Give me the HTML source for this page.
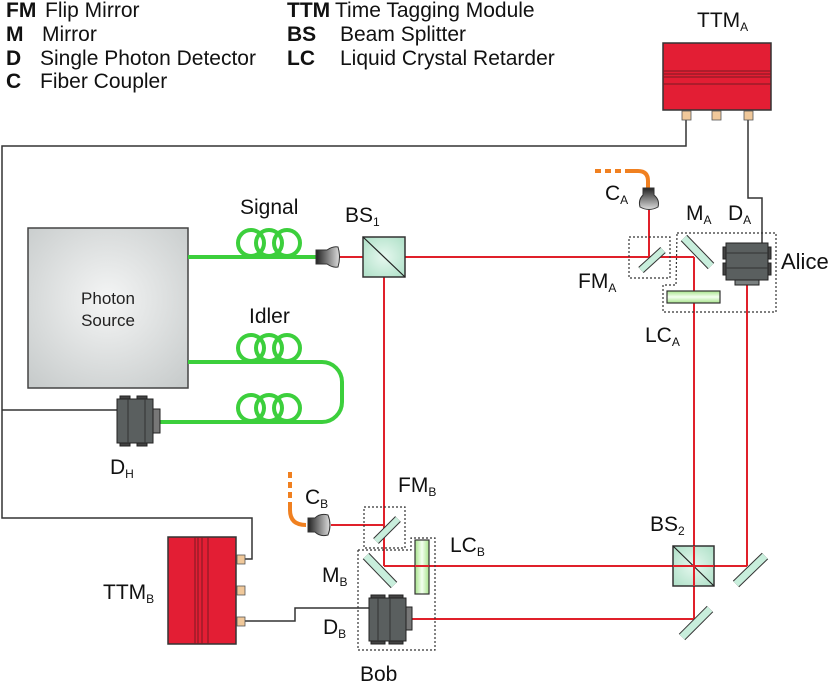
<!DOCTYPE html>
<html><head><meta charset="utf-8"><style>
html,body{margin:0;padding:0;background:#fff;}
svg{display:block;font-family:"Liberation Sans",sans-serif;}
</style></head><body>
<svg width="831" height="682" viewBox="0 0 831 682" xmlns="http://www.w3.org/2000/svg">
<defs>
<radialGradient id="ps" cx="50%" cy="45%" r="70%"><stop offset="0" stop-color="#f4f5f5"/><stop offset="1" stop-color="#c8cccc"/></radialGradient>
<linearGradient id="lc" x1="0" y1="0" x2="1" y2="0"><stop offset="0" stop-color="#a6e38a"/><stop offset="0.5" stop-color="#f4fff0"/><stop offset="1" stop-color="#a6e38a"/></linearGradient>
<linearGradient id="lcv" x1="0" y1="0" x2="0" y2="1"><stop offset="0" stop-color="#a6e38a"/><stop offset="0.5" stop-color="#f4fff0"/><stop offset="1" stop-color="#a6e38a"/></linearGradient>
<radialGradient id="bs" cx="50%" cy="50%" r="60%"><stop offset="0" stop-color="#e6f8ef"/><stop offset="1" stop-color="#b5e3cc"/></radialGradient>
<linearGradient id="cp" x1="0" y1="0" x2="1" y2="0"><stop offset="0" stop-color="#222"/><stop offset="1" stop-color="#ddd"/></linearGradient>
<linearGradient id="cpv" x1="0" y1="0" x2="0" y2="1"><stop offset="0" stop-color="#222"/><stop offset="1" stop-color="#ddd"/></linearGradient>
</defs>

<!-- legend -->
<g font-size="21" fill="#111">
<text x="6" y="17"><tspan font-weight="bold">FM</tspan><tspan x="45">Flip Mirror</tspan></text>
<text x="6" y="41"><tspan font-weight="bold">M</tspan><tspan x="42">Mirror</tspan></text>
<text x="6" y="65"><tspan font-weight="bold">D</tspan><tspan x="40">Single Photon Detector</tspan></text>
<text x="6" y="88"><tspan font-weight="bold">C</tspan><tspan x="40">Fiber Coupler</tspan></text>
<text x="287" y="17"><tspan font-weight="bold">TTM</tspan><tspan x="335">Time Tagging Module</tspan></text>
<text x="287" y="41"><tspan font-weight="bold">BS</tspan><tspan x="340">Beam Splitter</tspan></text>
<text x="287" y="65"><tspan font-weight="bold">LC</tspan><tspan x="340">Liquid Crystal Retarder</tspan></text>
</g>

<!-- black wires -->
<g fill="none" stroke="#333" stroke-width="1.5">
<polyline points="686,119 686,146 2,146 2,518 252,518 252,559 245,559"/>
<line x1="2" y1="410" x2="117" y2="410"/>
<polyline points="748,119 748,198 762,198 762,243"/>
<polyline points="245,621 295,621 295,608 369,608"/>
</g>

<!-- red beams -->
<g fill="none" stroke="#e0202a" stroke-width="2">
<line x1="338" y1="257" x2="694" y2="257"/>
<line x1="649" y1="210" x2="649" y2="257"/>
<line x1="694" y1="257" x2="694" y2="619"/>
<line x1="747" y1="285" x2="747" y2="566"/>
<line x1="384" y1="257" x2="384" y2="566"/>
<line x1="331" y1="525" x2="384" y2="525"/>
<line x1="384" y1="566" x2="747" y2="566"/>
<line x1="412" y1="619" x2="694" y2="619"/>
</g>

<!-- TTM A -->
<text x="697" y="27" font-size="21" fill="#111">TTM<tspan font-size="12" dy="4">A</tspan></text>
<rect x="663" y="43" width="108" height="67" fill="#e31e34" stroke="#333" stroke-width="1.5"/>
<g stroke="#7a1a22" stroke-width="1"><line x1="663" y1="71" x2="771" y2="71"/><line x1="663" y1="74" x2="771" y2="74"/><line x1="663" y1="77" x2="771" y2="77"/><line x1="663" y1="84" x2="771" y2="84"/></g>
<g fill="#f0c89a" stroke="#555" stroke-width="0.8">
<rect x="682" y="111" width="9" height="9"/><rect x="712" y="111" width="9" height="9"/><rect x="744" y="111" width="9" height="9"/>
</g>

<!-- Photon source -->
<rect x="28" y="228" width="160" height="160" fill="url(#ps)" stroke="#444" stroke-width="1.5"/>
<text x="108" y="304" font-size="17" text-anchor="middle" fill="#222">Photon</text>
<text x="108" y="326" font-size="17" text-anchor="middle" fill="#222">Source</text>

<!-- fibers -->
<g fill="none" stroke="#3ccf3c" stroke-width="4">
<line x1="188" y1="257" x2="316" y2="257"/>
<circle cx="251" cy="243" r="13"/><circle cx="269" cy="243" r="13"/><circle cx="287" cy="243" r="13"/>
<path d="M188 362 H322 A20 20 0 0 1 342 382 V402 A20 20 0 0 1 322 422 H160"/>
<circle cx="251" cy="348" r="13"/><circle cx="269" cy="348" r="13"/><circle cx="287" cy="348" r="13"/>
<circle cx="251" cy="408" r="13"/><circle cx="269" cy="408" r="13"/><circle cx="287" cy="408" r="13"/>
</g>
<text x="240" y="214" font-size="21" fill="#111">Signal</text>
<text x="249" y="323" font-size="21" fill="#111">Idler</text>

<!-- signal coupler -->
<path d="M316 250 H327 Q333 246 338 247 Q341 257 338 267 Q333 268 327 264 H316 Z" fill="url(#cp)" stroke="#333" stroke-width="1"/>

<!-- BS1 -->
<text x="345" y="222" font-size="21" fill="#111">BS<tspan font-size="12" dy="4">1</tspan></text>
<rect x="363" y="237" width="42" height="40" fill="url(#bs)" stroke="#333" stroke-width="1.5"/>
<line x1="363" y1="237" x2="405" y2="277" stroke="#222" stroke-width="1.2"/>

<!-- D_H -->
<g stroke="#222" stroke-width="1">
<rect x="120" y="396" width="10" height="4" fill="#444"/><rect x="137" y="396" width="10" height="4" fill="#444"/>
<rect x="120" y="442" width="10" height="4" fill="#444"/><rect x="137" y="442" width="10" height="4" fill="#444"/>
<rect x="117" y="399" width="36" height="44" fill="#5a5f5f"/>
<rect x="153" y="409" width="7" height="24" fill="#777"/>
<line x1="128" y1="399" x2="128" y2="443" stroke="#333"/><line x1="145" y1="399" x2="145" y2="443" stroke="#333"/>
</g>
<text x="110" y="474" font-size="21" fill="#111">D<tspan font-size="12" dy="4">H</tspan></text>

<!-- C_A -->
<line x1="595" y1="171" x2="626" y2="171" stroke="#f08020" stroke-width="4" stroke-dasharray="6,4"/>
<path d="M626 171 H638 Q648 171 648 181 V190" fill="none" stroke="#f08020" stroke-width="4"/>
<path d="M643 188 H654 V195 Q660 200 658 207 Q649 212 640 207 Q638 200 643 195 Z" fill="url(#cpv)" stroke="#333" stroke-width="1"/>
<text x="605" y="200" font-size="21" fill="#111">C<tspan font-size="12" dy="4">A</tspan></text>

<!-- FM_A -->
<rect x="629" y="237" width="41" height="41" fill="none" stroke="#333" stroke-width="1.2" stroke-dasharray="2,2"/>
<line x1="641" y1="270" x2="663" y2="250" stroke="#333" stroke-width="8"/>
<line x1="641" y1="270" x2="663" y2="250" stroke="#c8eedc" stroke-width="6"/>
<text x="578" y="288" font-size="21" fill="#111">FM<tspan font-size="12" dy="4">A</tspan></text>

<!-- Alice box -->
<polyline points="677,233 776,233 776,312 663,312 663,285 676,285 677,233" fill="none" stroke="#333" stroke-width="1.2" stroke-dasharray="2,2"/>
<line x1="684" y1="238" x2="711" y2="266" stroke="#333" stroke-width="9"/>
<line x1="684" y1="238" x2="711" y2="266" stroke="#c8eedc" stroke-width="7"/>
<rect x="667" y="291" width="53" height="12" fill="url(#lcv)" stroke="#333" stroke-width="1.2"/>
<g stroke="#222" stroke-width="1">
<rect x="723" y="247" width="4" height="12" fill="#444"/><rect x="723" y="263" width="4" height="12" fill="#444"/>
<rect x="767" y="247" width="4" height="12" fill="#444"/><rect x="767" y="263" width="4" height="12" fill="#444"/>
<rect x="735" y="279" width="24" height="6" fill="#7a8080"/>
<rect x="726" y="243" width="42" height="37" fill="#5a5f5f"/>
<line x1="726" y1="253" x2="768" y2="253" stroke="#333"/><line x1="726" y1="268" x2="768" y2="268" stroke="#333"/>
</g>
<text x="686" y="220" font-size="21" fill="#111">M<tspan font-size="12" dy="4">A</tspan></text>
<text x="728" y="220" font-size="21" fill="#111">D<tspan font-size="12" dy="4">A</tspan></text>
<text x="781" y="269" font-size="22" fill="#111">Alice</text>
<text x="645" y="342" font-size="21" fill="#111">LC<tspan font-size="12" dy="4">A</tspan></text>

<!-- BS2 -->
<text x="650" y="531" font-size="21" fill="#111">BS<tspan font-size="12" dy="4">2</tspan></text>
<rect x="673" y="546" width="41" height="40" fill="url(#bs)" stroke="#333" stroke-width="1.5"/>
<line x1="673" y1="546" x2="714" y2="586" stroke="#222" stroke-width="1.2"/>
<line x1="694" y1="546" x2="694" y2="586" stroke="#e0202a" stroke-width="2"/>
<line x1="673" y1="566" x2="714" y2="566" stroke="#e0202a" stroke-width="2"/>
<g>
<line x1="736" y1="584" x2="765" y2="556" stroke="#333" stroke-width="9"/>
<line x1="736" y1="584" x2="765" y2="556" stroke="#c8eedc" stroke-width="7"/>
<line x1="682" y1="637" x2="710" y2="609" stroke="#333" stroke-width="9"/>
<line x1="682" y1="637" x2="710" y2="609" stroke="#c8eedc" stroke-width="7"/>
</g>

<!-- C_B -->
<line x1="290" y1="472" x2="290" y2="506" stroke="#f08020" stroke-width="4" stroke-dasharray="6,4"/>
<path d="M290 506 V510 Q290 525 306 525" fill="none" stroke="#f08020" stroke-width="4"/>
<path d="M308 518 H315 Q320 513 328 515 Q332 525 328 535 Q320 537 315 532 H308 Z" fill="url(#cp)" stroke="#333" stroke-width="1"/>
<text x="305" y="504" font-size="21" fill="#111">C<tspan font-size="12" dy="4">B</tspan></text>

<!-- FM_B -->
<rect x="364" y="507" width="41" height="41" fill="none" stroke="#333" stroke-width="1.2" stroke-dasharray="2,2"/>
<line x1="376" y1="541" x2="398" y2="519" stroke="#333" stroke-width="8"/>
<line x1="376" y1="541" x2="398" y2="519" stroke="#c8eedc" stroke-width="6"/>
<text x="398" y="492" font-size="21" fill="#111">FM<tspan font-size="12" dy="4">B</tspan></text>

<!-- Bob -->
<polyline points="358,550 411,550 411,538 435,538 435,650 358,650 358,550" fill="none" stroke="#333" stroke-width="1.2" stroke-dasharray="2,2"/>
<line x1="366" y1="556" x2="394" y2="585" stroke="#333" stroke-width="9"/>
<line x1="366" y1="556" x2="394" y2="585" stroke="#c8eedc" stroke-width="7"/>
<rect x="415" y="540" width="14" height="54" fill="url(#lc)" stroke="#333" stroke-width="1.2"/>
<line x1="415" y1="566" x2="429" y2="566" stroke="#e0202a" stroke-width="2"/>
<g stroke="#222" stroke-width="1">
<rect x="371" y="595" width="14" height="4" fill="#444"/><rect x="389" y="595" width="14" height="4" fill="#444"/>
<rect x="371" y="640" width="14" height="4" fill="#444"/><rect x="389" y="640" width="14" height="4" fill="#444"/>
<rect x="369" y="598" width="37" height="43" fill="#5a5f5f"/>
<rect x="406" y="607" width="6" height="23" fill="#777"/>
<line x1="378" y1="598" x2="378" y2="641" stroke="#333"/><line x1="390" y1="598" x2="390" y2="641" stroke="#333"/>
</g>
<text x="322" y="582" font-size="21" fill="#111">M<tspan font-size="12" dy="4">B</tspan></text>
<text x="323" y="634" font-size="21" fill="#111">D<tspan font-size="12" dy="4">B</tspan></text>
<text x="450" y="552" font-size="21" fill="#111">LC<tspan font-size="12" dy="4">B</tspan></text>
<text x="360" y="681" font-size="21" fill="#111">Bob</text>

<!-- TTM B -->
<rect x="168" y="537" width="68" height="107" fill="#e31e34" stroke="#333" stroke-width="1.5"/>
<g stroke="#7a1a22" stroke-width="1"><line x1="195" y1="537" x2="195" y2="644"/><line x1="198" y1="537" x2="198" y2="644"/><line x1="202" y1="537" x2="202" y2="644"/><line x1="208" y1="537" x2="208" y2="644"/></g>
<g fill="#f0c89a" stroke="#555" stroke-width="0.8">
<rect x="237" y="555" width="8" height="9"/><rect x="237" y="586" width="8" height="9"/><rect x="237" y="617" width="8" height="9"/>
</g>
<text x="103" y="599" font-size="21" fill="#111">TTM<tspan font-size="12" dy="4">B</tspan></text>
</svg>
</body></html>
